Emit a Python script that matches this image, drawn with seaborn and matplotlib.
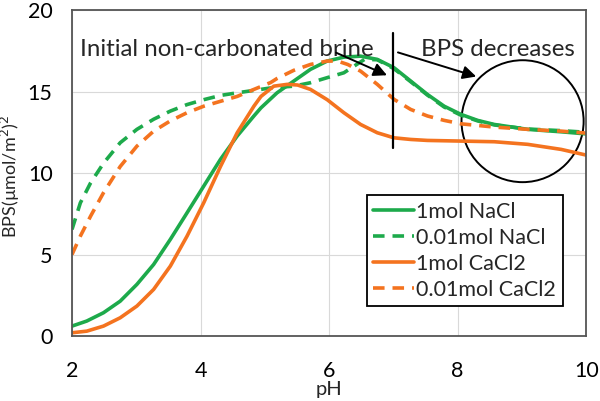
import pandas as pd
import matplotlib.pyplot as plt
import seaborn as sns
from matplotlib.patches import Ellipse

# --- datos ---
ph_nacl_1 = [2.0, 2.23, 2.49, 2.75, 3.01, 3.27, 3.53, 3.79, 4.05, 4.31, 4.57, 4.83, 4.94,
             5.19, 5.45, 5.71, 5.97, 6.23, 6.49, 6.75, 7.01, 7.27, 7.53, 7.79, 8.05, 8.31,
             8.57, 9.09, 9.61, 10.0]
bps_nacl_1 = [0.61, 0.92, 1.43, 2.14, 3.17, 4.39, 5.93, 7.56, 9.2, 10.84, 12.27, 13.5, 14.0,
              14.92, 15.64, 16.36, 16.87, 17.11, 17.17, 16.97, 16.46, 15.64, 14.82, 14.1, 13.6, 13.23,
              12.98, 12.68, 12.53, 12.4]

ph_nacl_001 = [2.0, 2.13, 2.29, 2.49, 2.75, 3.01, 3.27, 3.53, 3.79, 4.05, 4.31, 4.57, 4.83,
               5.09, 5.45, 5.71, 5.97, 6.23, 6.39, 6.55, 6.75, 7.01, 7.27, 7.53, 7.79, 8.05,
               8.31, 8.57, 9.09, 9.61, 10.0]
bps_nacl_001 = [6.54, 8.17, 9.4, 10.6, 11.86, 12.68, 13.3, 13.8, 14.2, 14.5, 14.76, 14.92, 15.07,
                15.22, 15.33, 15.54, 15.85, 16.15, 16.56, 16.97, 16.95, 16.4, 15.6, 14.78, 14.05, 13.55,
                13.2, 12.95, 12.7, 12.6, 12.5]

ph_cacl_1 = [2.0, 2.23, 2.49, 2.75, 3.01, 3.27, 3.53, 3.79, 4.05, 4.31, 4.57, 4.83, 4.94,
             5.14, 5.35, 5.51, 5.71, 5.97, 6.23, 6.49, 6.75, 7.01, 7.27, 7.53, 8.05, 8.57,
             9.09, 9.61, 10.0]
bps_cacl_1 = [0.2, 0.3, 0.61, 1.12, 1.84, 2.86, 4.29, 6.13, 8.18, 10.4, 12.47, 14.1, 14.7,
              15.33, 15.44, 15.4, 15.13, 14.5, 13.7, 12.98, 12.47, 12.16, 12.06, 12.0, 11.96, 11.92,
              11.76, 11.45, 11.1]

ph_cacl_001 = [2.0, 2.13, 2.29, 2.49, 2.75, 3.01, 3.27, 3.53, 3.79, 4.05, 4.31, 4.57, 4.83,
               5.09, 5.19, 5.45, 5.71, 5.97, 6.13, 6.29, 6.49, 6.75, 7.01, 7.27, 7.53, 7.79,
               8.05, 8.57, 9.09, 9.61, 10.0]
bps_cacl_001 = [5.0, 6.13, 7.36, 8.79, 10.4, 11.65, 12.57, 13.2, 13.7, 14.1, 14.4, 14.7, 15.13,
                15.55, 15.8, 16.3, 16.66, 16.87, 16.87, 16.66, 16.25, 15.44, 14.52, 13.9, 13.5, 13.23,
                13.02, 12.82, 12.68, 12.57, 12.45]

series = ["1mol NaCl", "0.01mol NaCl", "1mol CaCl2", "0.01mol CaCl2"]
xs = [ph_nacl_1, ph_nacl_001, ph_cacl_1, ph_cacl_001]
ys = [bps_nacl_1, bps_nacl_001, bps_cacl_1, bps_cacl_001]

df = pd.concat(
    [pd.DataFrame({"pH": x, "BPS": y, "serie": s}) for s, x, y in zip(series, xs, ys)],
    ignore_index=True,
)

verde = "#1DAA4B"
naranja = "#F4731F"
colores = {series[0]: verde, series[1]: verde, series[2]: naranja, series[3]: naranja}
guiones = {series[0]: "", series[1]: (3.2, 2.2), series[2]: "", series[3]: (3.2, 2.2)}

sns.set_theme(style="white")
plt.rcParams["font.family"] = ["Lato", "DejaVu Sans"]

fig = plt.figure(figsize=(6, 4.01), dpi=100)
ax = fig.add_axes([0.12, 0.162, 0.857, 0.813])

sns.lineplot(
    data=df, x="pH", y="BPS", hue="serie", style="serie",
    hue_order=series, style_order=series,
    palette=colores, dashes=guiones, sort=False, estimator=None,
    linewidth=2.6, ax=ax,
)
for ln in ax.get_lines():
    ln.set_solid_joinstyle("round")
    ln.set_dash_joinstyle("round")

ax.set_xlim(2, 10)
ax.set_ylim(0, 20)
ax.set_xticks([2, 4, 6, 8, 10])
ax.set_yticks([0, 5, 10, 15, 20])
ax.grid(True, color="#d9d9d9", linewidth=0.8)
ax.set_axisbelow(True)
for sp in ax.spines.values():
    sp.set_color("#555555")
    sp.set_linewidth(1.3)
ax.tick_params(length=0, labelsize=15.5, colors="black")
ax.tick_params(axis="x", pad=18)
ax.tick_params(axis="y", pad=14)
ax.set_xlabel("pH", fontsize=14.5, labelpad=0)
ax.set_ylabel("BPS(µmol/m$^2$)$^2$", fontsize=13)
ax.yaxis.set_label_coords(-0.098, 0.49)

# anotaciones
ax.text(2.12, 17.55, "Initial non-carbonated brine", fontsize=17.3, va="center", ha="left")
ax.text(7.43, 17.6, "BPS decreases", fontsize=17.3, va="center", ha="left")
ax.plot([6.99, 6.99], [11.55, 18.6], color="black", linewidth=1.6)
flecha = dict(arrowstyle="-|>", color="black", linewidth=1.4, mutation_scale=20)
ax.annotate("", xy=(6.94, 15.93), xytext=(6.07, 17.45), arrowprops=flecha)
ax.annotate("", xy=(8.33, 15.87), xytext=(7.03, 17.45), arrowprops=flecha)
ax.add_patch(Ellipse((9.01, 13.18), 1.9, 7.48, fill=False, edgecolor="black", linewidth=1.4))

leg = ax.legend(
    loc="lower right", bbox_to_anchor=(0.975, 0.058), fontsize=15.5,
    frameon=True, fancybox=False, handlelength=1.9, handletextpad=0.1,
    borderpad=0.3, labelspacing=0.28,
)
leg.get_frame().set_edgecolor("black")
leg.get_frame().set_linewidth(1.3)
leg.get_frame().set_alpha(1)

plt.savefig("out.png", dpi=100)
plt.close()
